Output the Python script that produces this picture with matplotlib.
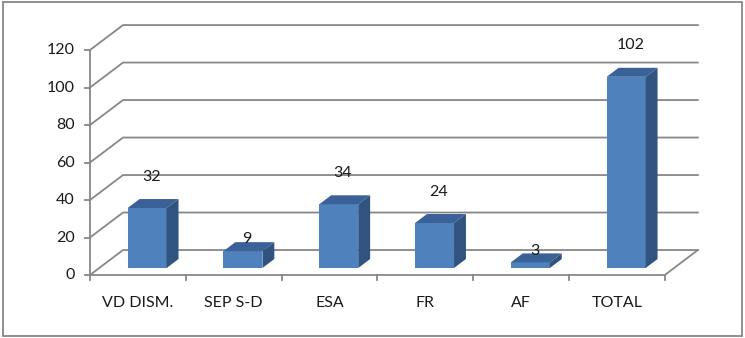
import matplotlib.pyplot as plt
from matplotlib.patches import Polygon, Rectangle

categorias = ['VD DISM.', 'SEP S-D', 'ESA', 'FR', 'AF', 'TOTAL']
valores = [32, 9, 34, 24, 3, 102]
y_ticks = [0, 20, 40, 60, 80, 100, 120]

plt.rcParams['font.family'] = ['Lato', 'DejaVu Sans']

fig = plt.figure(figsize=(7.45, 3.38), dpi=100)
ax = fig.add_axes([0, 0, 1, 1])
ax.set_xlim(-1.439, 6.337)
ax.set_ylim(-33.6, 146.7)
ax.axis('off')

# profundidade do "3D" (em unidades de dados)
DX = 0.345
DY = 13.33
f0, f1 = 0.28, 0.64
meia = 0.2035
n = len(categorias)
cinza = '#878787'
fs = 11.5

# paredes / grade
for t in y_ticks:
    ax.plot([-0.5, -0.5 + DX, n - 0.5 + DX], [t, t + DY, t + DY],
            color=cinza, lw=1.3, zorder=1)
    ax.plot([-0.5 - 0.055, -0.5], [t, t], color=cinza, lw=1.3, zorder=1)
    ax.text(-0.66, t, str(t), ha='right', va='center', fontsize=fs, color='#1a1a1a')

ax.plot([-0.5, -0.5], [0, max(y_ticks)], color=cinza, lw=1.3, zorder=1)
ax.plot([-0.5, n - 0.5, n - 0.5 + DX], [0, 0, DY], color=cinza, lw=1.3, zorder=1)
for i in range(n + 1):
    ax.plot([i - 0.5, i - 0.5], [0, -2.7], color=cinza, lw=1.3, zorder=1)

# barras
for i, (cat, v) in enumerate(zip(categorias, valores)):
    xl, xr = i - meia, i + meia
    frente = Polygon([(xl + f0 * DX, f0 * DY), (xr + f0 * DX, f0 * DY),
                      (xr + f0 * DX, v + f0 * DY), (xl + f0 * DX, v + f0 * DY)],
                     closed=True, facecolor='#4F81BD', edgecolor='none', zorder=3)
    topo = Polygon([(xl + f0 * DX, v + f0 * DY), (xr + f0 * DX, v + f0 * DY),
                    (xr + f1 * DX, v + f1 * DY), (xl + f1 * DX, v + f1 * DY)],
                   closed=True, facecolor='#3B6298', edgecolor='none', zorder=3)
    lado = Polygon([(xr + f0 * DX, f0 * DY), (xr + f1 * DX, f1 * DY),
                    (xr + f1 * DX, v + f1 * DY), (xr + f0 * DX, v + f0 * DY)],
                   closed=True, facecolor='#30537F', edgecolor='none', zorder=3)
    ax.add_patch(frente)
    ax.add_patch(topo)
    ax.add_patch(lado)

    desloc = 12 if v >= 20 else 1.5
    ax.text(i + 0.14, v + f1 * DY + desloc, str(v), ha='center', va='center',
            fontsize=fs, color='#1a1a1a', zorder=4)
    ax.text(i, -15, cat, ha='center', va='center', fontsize=fs, color='#1a1a1a')

# moldura
fig.patches.append(Rectangle((3 / 745, 2 / 338), 739 / 745, 334 / 338,
                             transform=fig.transFigure, fill=False,
                             edgecolor=cinza, lw=1.3))

plt.savefig('out.png', dpi=100)
